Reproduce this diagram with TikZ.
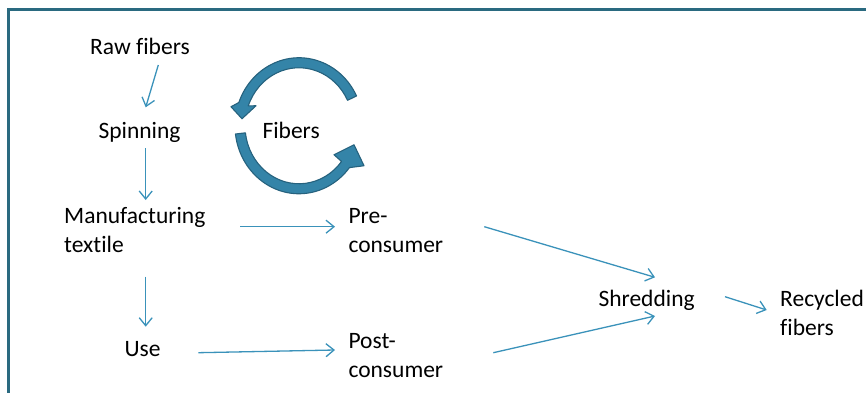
\documentclass[tikz,border=0pt]{standalone}
\usepackage{fontspec}
\setmainfont[RawFeature={-liga}]{Carlito}
\usetikzlibrary{arrows.meta,calc}
\definecolor{framecol}{RGB}{42,106,128}
\definecolor{linkcol}{RGB}{58,146,186}
\definecolor{cyclefill}{RGB}{52,132,168}
\definecolor{cycleedge}{RGB}{38,98,126}

\begin{document}
\begin{tikzpicture}[x=1pt,y=1pt,
  lbl/.style={inner sep=0pt, font=\fontsize{23.5}{28.5}\selectfont, text=black},
  multi/.style={lbl, align=left, anchor=north west},
  single/.style={lbl, anchor=base west},
  link/.style={draw=linkcol, line width=1.3pt, -{Straight Barb[length=8pt,width=13pt]}},
  cycarrow/.style={fill=cyclefill, draw=cycleedge, line width=1.1pt, line join=round}]

\useasboundingbox (0,0) rectangle (866,392);
\clip (0,0) rectangle (866,392);

% open frame running off the page
\draw[framecol, line width=3pt] (8.5,-10) -- (8.5,382.5) -- (880,382.5);

% labels
\node[single] (raw)   at (90,338)      {Raw fibers};
\node[single] (spin)  at (98.3,253.7)  {Spinning};
\node[single] (fib)   at (262.3,253.7) {Fibers};
\node[multi]  (manu)  at (64,188.65)   {\strut Manufacturing\\textile};
\node[multi]  (pre)   at (348.3,188.65){\strut Pre-\\consumer};
\node[single] (use)   at (124.3,35.3)  {Use};
\node[multi]  (post)  at (348.3,63.65) {\strut Post-\\consumer};
\node[single] (shred) at (598.3,85.3)  {Shredding};
\node[multi]  (rec)   at (780,105.25)  {\strut Recycled\\fibers};

% fibre cycle: two curved block arrows around the label
\coordinate (cyc) at (299,266.25);
\filldraw[cycarrow]
  ($(cyc)+(26:64 and 68)$) arc[start angle=26, end angle=160, x radius=64, y radius=68]
  -- ($(cyc)+(-68,19)$) -- ($(cyc)+(-57,7)$) -- ($(cyc)+(-43,20)$)
  -- ($(cyc)+(160:54 and 58)$) arc[start angle=160, end angle=26, x radius=54, y radius=58]
  -- cycle;
\filldraw[cycarrow]
  ($(cyc)+(187:64 and 68)$) arc[start angle=187, end angle=322, x radius=64, y radius=68]
  -- ($(cyc)+(65,-40)$) -- ($(cyc)+(55,-19)$) -- ($(cyc)+(35,-29)$)
  -- ($(cyc)+(322:54 and 58)$) arc[start angle=322, end angle=187, x radius=54, y radius=58]
  -- cycle;

% process flow
\draw[link] ([shift={(68.3,-11)}]raw.base west)   -- ([shift={(47.4,31)}]spin.base west);
\draw[link] ([shift={(47.4,-10)}]spin.base west)  -- ([shift={(81.7,3.35)}]manu.north west);
\draw[link] ([shift={(176,-23.35)}]manu.north west) -- ([shift={(-13.3,-23.35)}]pre.north west);
\draw[link] ([shift={(81.7,-73.35)}]manu.north west) -- ([shift={(21.4,30)}]use.base west);
\draw[link] ([shift={(74,4)}]use.base west)       -- ([shift={(-13.3,-21.65)}]post.north west);
\draw[link] ([shift={(136,-23.35)}]pre.north west) -- ([shift={(56.7,29.4)}]shred.base west);
\draw[link] ([shift={(145,-24.35)}]post.north west) -- ([shift={(56.7,-9.3)}]shred.base west);
\draw[link] ([shift={(126.7,10)}]shred.base west) -- ([shift={(-13.3,-23.25)}]rec.north west);
\end{tikzpicture}
\end{document}
